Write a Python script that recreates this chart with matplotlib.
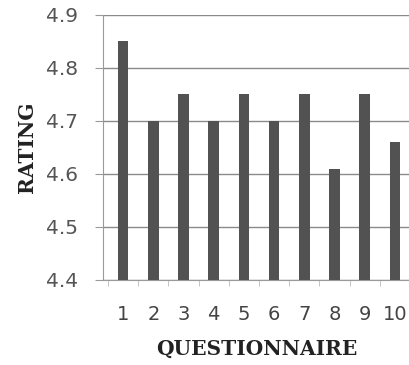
import matplotlib
matplotlib.use("Agg")
import matplotlib.pyplot as plt
import numpy as np

questionnaire = [1, 2, 3, 4, 5, 6, 7, 8, 9, 10]
rating = [4.85, 4.70, 4.75, 4.70, 4.75, 4.70, 4.75, 4.61, 4.75, 4.66]
yticks = [4.4, 4.5, 4.6, 4.7, 4.8, 4.9]

fig = plt.figure(figsize=(4.1, 3.65), dpi=100)
ax = fig.add_axes([0.251, 0.233, 0.749, 0.726])

ax.bar(questionnaire, rating, width=0.35, color='#525252', zorder=3)

ax.set_ylim(4.4, 4.9)
ax.set_xlim(0.33, 10.5)
ax.set_yticks(yticks)
ax.set_yticklabels([f"{v:.1f}" for v in yticks])
ax.set_xticks(questionnaire)
ax.set_xticks(np.arange(0.5, 10.6, 1.0), minor=True)

ax.grid(axis='y', color='#8a8a8a', linewidth=1.0, zorder=0)
for s in ['top', 'right']:
    ax.spines[s].set_visible(False)
for s in ['left', 'bottom']:
    ax.spines[s].set_color('#9a9a9a')

ax.tick_params(axis='y', direction='out', length=6, color='#9a9a9a',
               labelsize=14.5, labelcolor='#555555', pad=12)
ax.tick_params(axis='x', which='major', length=0, labelsize=14,
               labelcolor='#444444', pad=18)
ax.tick_params(axis='x', which='minor', direction='out', length=4,
               color='#bbbbbb')

ax.set_xlabel('QUESTIONNAIRE', family='DejaVu Serif', fontsize=14.5,
              color='#222222', labelpad=11, fontweight='bold')
ax.set_ylabel('RATING', family='DejaVu Serif', fontsize=14.5,
              color='#222222', labelpad=6, fontweight='bold')

fig.savefig('out.png')
